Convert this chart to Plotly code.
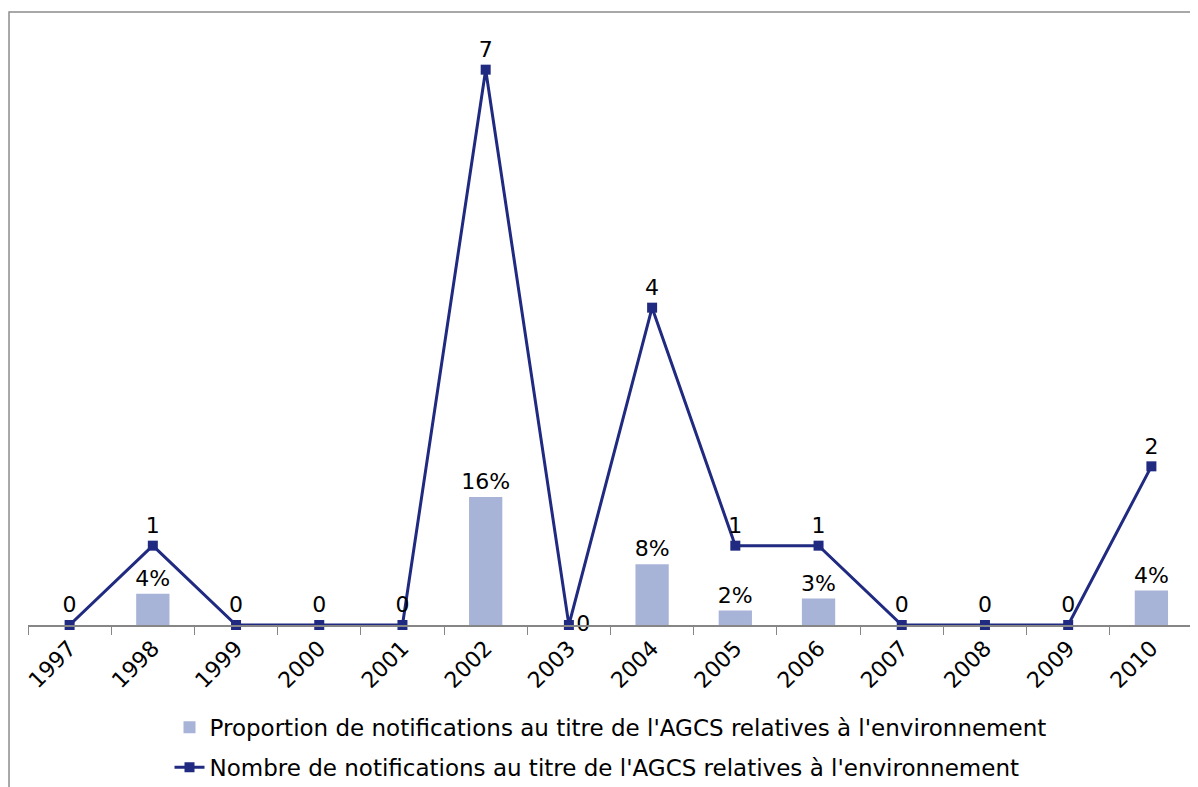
import plotly.graph_objects as go

years = ["1997", "1998", "1999", "2000", "2001", "2002", "2003",
         "2004", "2005", "2006", "2007", "2008", "2009", "2010"]
counts = [0, 1, 0, 0, 0, 7, 0, 4, 1, 1, 0, 0, 0, 2]
proportions = [None, 0.039, None, None, None, 0.16, None,
               0.076, 0.018, 0.033, None, None, None, 0.043]

bar_name = "Proportion de notifications au titre de l'AGCS relatives à l'environnement"
line_name = "Nombre de notifications au titre de l'AGCS relatives à l'environnement"

FONT = "DejaVu Sans"
FS = 22
navy = "#1F2A80"
barcol = "#A8B3D8"

line_text_pos = ["top center"] * len(years)
line_text_pos[6] = "middle right"

fig = go.Figure()
fig.add_trace(go.Bar(
    x=years, y=proportions, name=bar_name, yaxis="y", legendgroup="a",
    marker=dict(color=barcol, line=dict(width=0)), width=0.4,
    texttemplate="%{y:.0%}", textposition="outside", cliponaxis=False,
    constraintext="none",
    textfont=dict(family=FONT, size=FS, color="#000000"),
))
fig.add_trace(go.Scatter(
    x=years, y=counts, name=line_name, yaxis="y2", legendgroup="b",
    mode="lines+markers+text", text=[str(c) for c in counts],
    textposition=line_text_pos, cliponaxis=False,
    line=dict(color=navy, width=3),
    marker=dict(symbol="square", size=10, color=navy),
    textfont=dict(family=FONT, size=FS, color="#000000"),
))

# page body adds an 8px offset; margins compensate for it
fig.update_layout(
    width=1198, height=787,
    margin=dict(l=20, r=13, t=22, b=170, autoexpand=False),
    paper_bgcolor="white", plot_bgcolor="white",
    font=dict(family=FONT, size=FS, color="#000000"),
    showlegend=True,
    legend=dict(orientation="v", x=0.5, xanchor="center", y=-0.136, yanchor="top",
                font=dict(family=FONT, size=23), itemwidth=30, tracegroupgap=7),
    xaxis=dict(type="category", range=[-0.5, 13.5], showgrid=False, showline=True,
               linecolor="#868686", linewidth=1.5, ticks="outside",
               tickson="boundaries", ticklen=8, tickcolor="#868686", tickangle=-45,
               zeroline=False, automargin=False,
               tickfont=dict(family=FONT, size=FS)),
    yaxis=dict(range=[0, 0.744], visible=False, showgrid=False, zeroline=False,
               automargin=False),
    yaxis2=dict(range=[0, 7.5], overlaying="y", side="right", visible=False,
                showgrid=False, zeroline=False, automargin=False),
    shapes=[dict(type="rect", xref="paper", yref="paper",
                 x0=-0.0163, x1=1.2, y0=-0.5, y1=1.0303,
                 line=dict(color="#8C8C8C", width=1.5), fillcolor="rgba(0,0,0,0)",
                 layer="below")],
)

fig.write_html("out.html")
